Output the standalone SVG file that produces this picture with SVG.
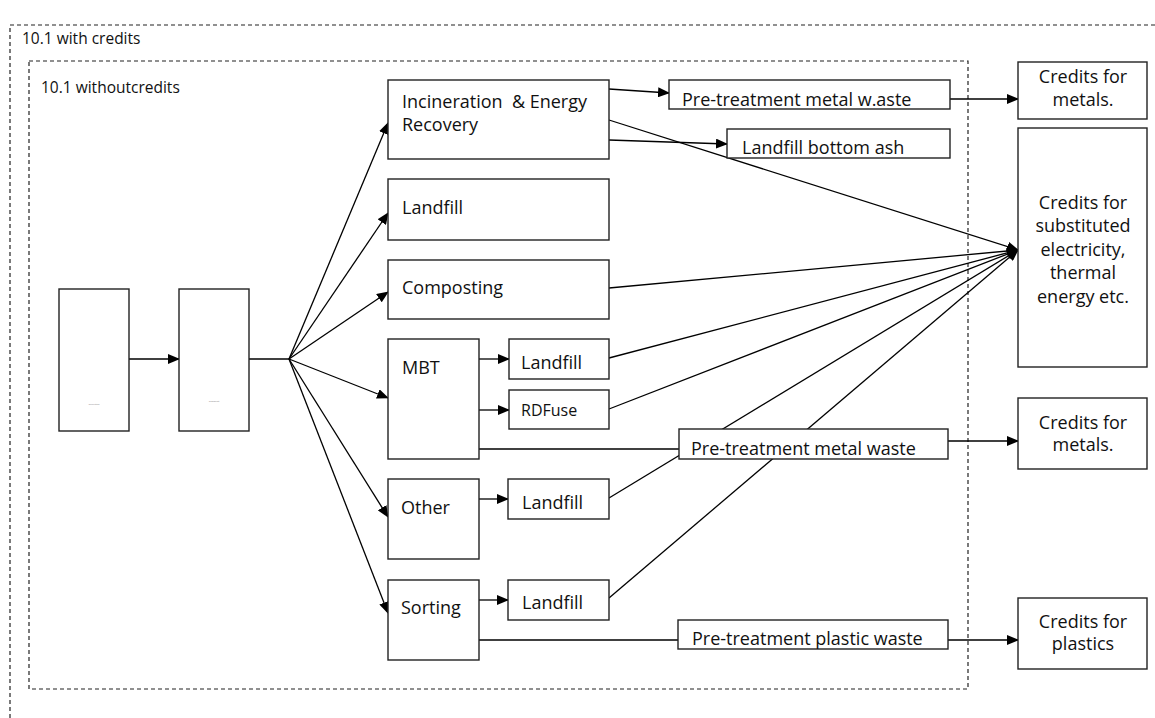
<svg xmlns="http://www.w3.org/2000/svg" width="1155" height="718" viewBox="0 0 1155 718">
<style>
.bg{fill:#fff}
.dash{fill:none;stroke:#222;stroke-width:1.2;stroke-dasharray:4,3}
.box{fill:#fff;stroke:#222;stroke-width:1.4}
.ln{fill:none;stroke:#000;stroke-width:1.3}
.arr{marker-end:url(#ah)}
.t{font-family:"Open Sans","Noto Sans","Liberation Sans",sans-serif;font-size:18px;fill:#111}
.s{font-family:"Open Sans","Noto Sans","Liberation Sans",sans-serif;font-size:15.5px;fill:#111}
.m{font-family:"Open Sans","Noto Sans","Liberation Sans",sans-serif;font-size:16px;fill:#111}
.c{text-anchor:middle}
.tiny{font-family:"Liberation Sans",sans-serif;font-size:2.5px;fill:#888;text-anchor:middle}
</style>
<defs>
<marker id="ah" markerUnits="userSpaceOnUse" markerWidth="12" markerHeight="10" refX="11" refY="5" orient="auto">
<path d="M0,0 L12,5 L0,10 Z" fill="#000"/>
</marker>
</defs>
<rect class="bg" x="0" y="0" width="1155" height="718"/>
<g id="frames">
<rect class="dash" x="10" y="25" width="1170" height="720"/>
<text class="s" x="22" y="44">10.1 with credits</text>
<rect class="dash" x="29" y="61" width="939" height="628"/>
<text class="s" x="41" y="93">10.1 withoutcredits</text>
</g>
<g id="connectors">
<line class="ln arr" x1="129" y1="359" x2="179" y2="359"/>
<line class="ln" x1="249" y1="359" x2="289" y2="359" stroke-width="2.2"/>
<line class="ln arr" x1="289" y1="359" x2="388" y2="123"/>
<line class="ln arr" x1="289" y1="359" x2="388" y2="213"/>
<line class="ln arr" x1="289" y1="359" x2="388" y2="292"/>
<line class="ln arr" x1="289" y1="359" x2="388" y2="398"/>
<line class="ln arr" x1="289" y1="359" x2="388" y2="517"/>
<line class="ln arr" x1="289" y1="359" x2="388" y2="613"/>
<line class="ln arr" x1="609" y1="89" x2="669" y2="93"/>
<line class="ln arr" x1="609" y1="140" x2="727" y2="144"/>
<line class="ln arr" x1="609" y1="120" x2="1018" y2="250"/>
<line class="ln arr" x1="950" y1="99" x2="1018" y2="99"/>
<line class="ln arr" x1="609" y1="288" x2="1018" y2="250"/>
<line class="ln arr" x1="479" y1="359" x2="509" y2="359"/>
<line class="ln arr" x1="479" y1="410" x2="509" y2="410"/>
<line class="ln" x1="479" y1="449" x2="679" y2="449"/>
<line class="ln arr" x1="609" y1="358" x2="1018" y2="250"/>
<line class="ln arr" x1="609" y1="409" x2="1018" y2="250"/>
<line class="ln arr" x1="948" y1="441" x2="1018" y2="441"/>
<line class="ln arr" x1="479" y1="499" x2="508" y2="499"/>
<line class="ln arr" x1="609" y1="498" x2="1018" y2="250"/>
<line class="ln arr" x1="479" y1="600" x2="508" y2="600"/>
<line class="ln arr" x1="609" y1="598" x2="1018" y2="250"/>
<line class="ln" x1="479" y1="640" x2="678" y2="640"/>
<line class="ln arr" x1="948" y1="640" x2="1018" y2="640"/>
</g>
<g id="collection"><rect class="box" x="59" y="289" width="70" height="142"/><text class="tiny" x="94" y="405">Collection</text></g>
<g id="transport"><rect class="box" x="179" y="289" width="70" height="142"/><text class="tiny" x="214" y="402">Transport</text></g>
<g id="incineration"><rect class="box" x="388" y="80" width="221" height="79"/><text class="t" x="402" y="108" xml:space="preserve">Incineration  &amp; Energy</text><text class="t" x="402" y="131">Recovery</text></g>
<g id="landfill"><rect class="box" x="388" y="179" width="221" height="61"/><text class="t" x="402" y="214">Landfill</text></g>
<g id="composting"><rect class="box" x="388" y="260" width="221" height="59"/><text class="t" x="402" y="294">Composting</text></g>
<g id="mbt"><rect class="box" x="388" y="339" width="91" height="120"/><text class="t" x="402" y="374">MBT</text></g>
<g id="other"><rect class="box" x="388" y="479" width="91" height="80"/><text class="t" x="401" y="514">Other</text></g>
<g id="sorting"><rect class="box" x="388" y="580" width="91" height="80"/><text class="t" x="401" y="614">Sorting</text></g>
<g id="mbt-landfill"><rect class="box" x="509" y="339" width="100" height="40"/><text class="t" x="521" y="369">Landfill</text></g>
<g id="rdfuse"><rect class="box" x="509" y="390" width="100" height="39"/><text class="m" x="521" y="416">RDFuse</text></g>
<g id="other-landfill"><rect class="box" x="508" y="479" width="101" height="40"/><text class="t" x="522" y="509">Landfill</text></g>
<g id="sorting-landfill"><rect class="box" x="508" y="580" width="101" height="40"/><text class="t" x="522" y="609">Landfill</text></g>
<g id="pt-metal-1"><rect class="box" x="669" y="80" width="281" height="29"/><text class="t" x="682" y="106">Pre-treatment metal w.aste</text></g>
<g id="landfill-bottom-ash"><rect class="box" x="727" y="129" width="223" height="29"/><text class="t" x="742" y="154">Landfill bottom ash</text></g>
<g id="pt-metal-2"><rect class="box" x="679" y="429" width="269" height="30"/><text class="t" x="691" y="455">Pre-treatment metal waste</text></g>
<g id="pt-plastic"><rect class="box" x="678" y="620" width="270" height="29"/><text class="t" x="692" y="645">Pre-treatment plastic waste</text></g>
<g id="credits-metals-1"><rect class="box" x="1018" y="62" width="129" height="57"/><text class="t c" x="1083" y="83">Credits for</text><text class="t c" x="1083" y="106">metals.</text></g>
<g id="credits-energy"><rect class="box" x="1018" y="128" width="129" height="239"/><text class="t c" x="1083" y="209">Credits for</text><text class="t c" x="1083" y="232">substituted</text><text class="t c" x="1083" y="256">electricity,</text><text class="t c" x="1083" y="279">thermal</text><text class="t c" x="1083" y="303">energy etc.</text></g>
<g id="credits-metals-2"><rect class="box" x="1018" y="398" width="129" height="71"/><text class="t c" x="1083" y="429">Credits for</text><text class="t c" x="1083" y="451">metals.</text></g>
<g id="credits-plastics"><rect class="box" x="1018" y="598" width="129" height="71"/><text class="t c" x="1083" y="628">Credits for</text><text class="t c" x="1083" y="650">plastics</text></g>
</svg>
